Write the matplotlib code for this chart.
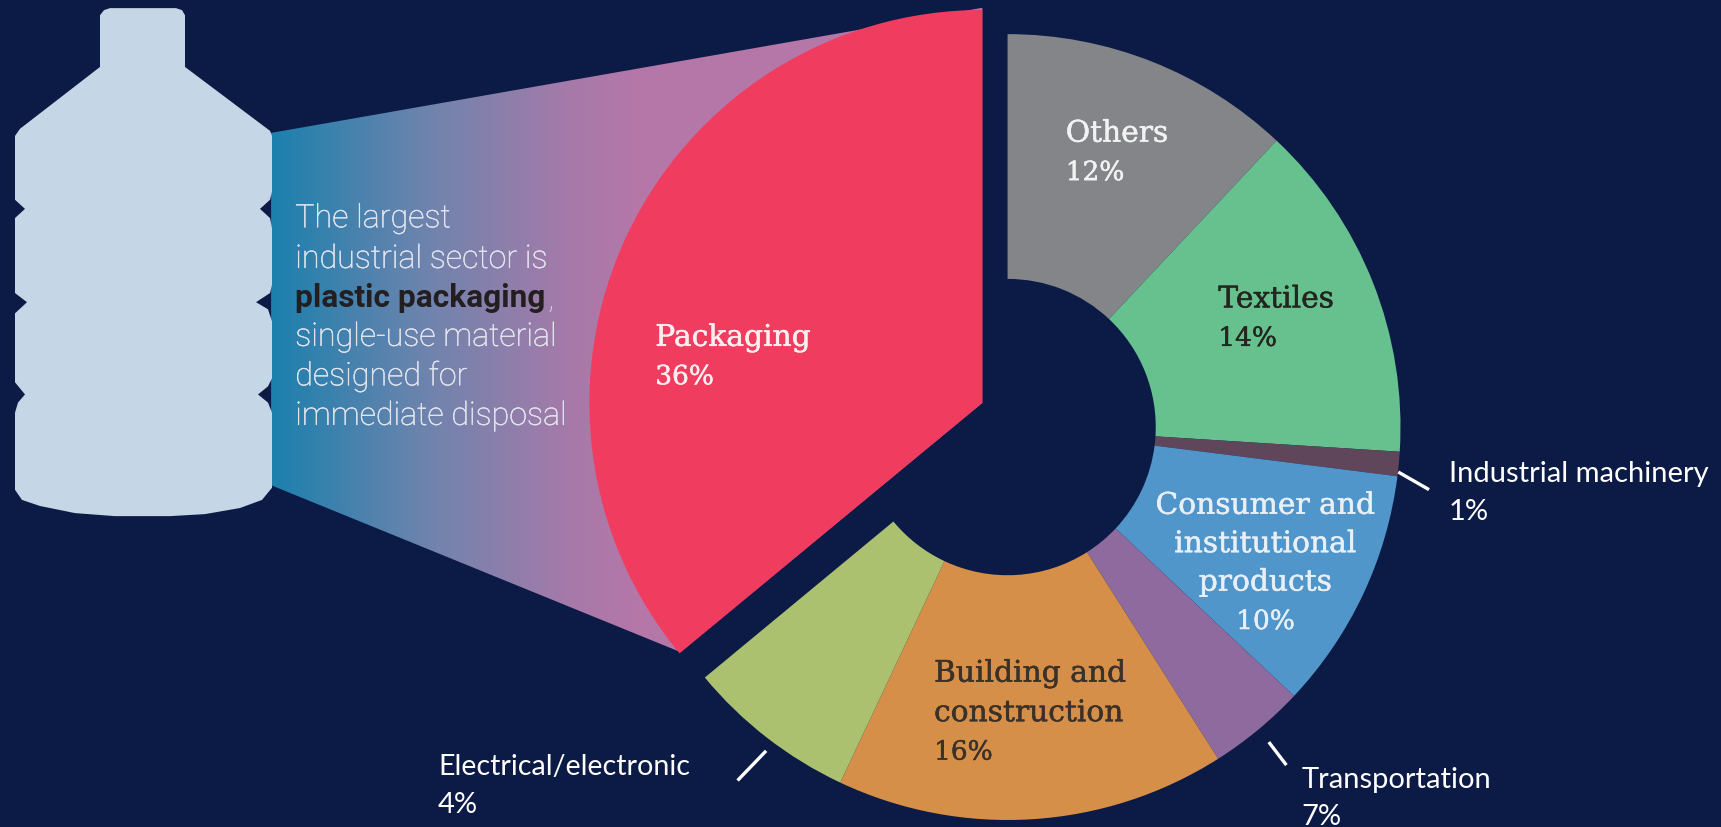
"""Plastic production by industrial sector, donut with bottle callout."""
import matplotlib
matplotlib.use('Agg')
import matplotlib.pyplot as plt
import matplotlib.patheffects as pe
from matplotlib.colors import LinearSegmentedColormap
from matplotlib.patches import Polygon
import numpy as np

W, H = 1721, 828
S = W / 1568  # positions below were read on the 1568 px wide view

BG = '#0c1a46'
sectors = ['Others', 'Textiles', 'Industrial machinery', 'Consumer', 'Transportation',
           'Building', 'Electrical', 'Packaging']
shares = [12, 14, 1, 10, 4, 16, 7, 36]  # slice sizes as drawn
colors = ['#848588', '#66c18e', '#60465b', '#5096ca', '#8f6a9f', '#d68f48', '#abc16f', '#f03c5f']

intro_lines = ['The largest', 'industrial sector is', 'plastic packaging',
               'single-use material', 'designed for', 'immediate disposal']

NARROW = 'Roboto'
SLAB = 'DejaVu Serif'
SANS = 'Lato'


def px(x, y):
    return x * S, H - y * S


def label(x, y, s, color='white', size=21.4, family=SLAB, ha='left', weight='normal', thick=0.0):
    X, Y = px(x, y)
    t = ax.text(X, Y, s, color=color, fontsize=size, family=family, ha=ha, va='baseline',
                weight=weight, zorder=6)
    if thick:
        t.set_path_effects([pe.withStroke(linewidth=thick, foreground=color)])


fig = plt.figure(figsize=(W / 100, H / 100), dpi=100, facecolor=BG)
ax = fig.add_axes([0, 0, 1, 1])
ax.set_facecolor(BG)

# gradient funnel from bottle to packaging slice
funnel = Polygon([px(247, 122), px(800, 25), px(895, 8), px(895, 368), px(620, 595), px(247, 443)],
                 closed=True, transform=ax.transData, fc='none', ec='none')
ax.add_patch(funnel)
cmap = LinearSegmentedColormap.from_list('funnel', [(0, '#1c80ae'), (0.22, '#6f84ad'), (0.42, '#a67aa9'),
                                                    (0.52, '#b577a8'), (1, '#b577a8')])
img = ax.imshow(np.linspace(0, 1, 256)[None, :], cmap=cmap, aspect='auto', zorder=1,
                extent=(247 * S, 895 * S, 0, H))
img.set_clip_path(funnel)

# donut, packaging slice pulled out up-left and with no hole
R, r = 358 * S, 135 * S
wedges, _ = ax.pie(shares, colors=colors, startangle=90, counterclock=False, radius=R,
                   center=px(918, 390), wedgeprops=dict(width=R - r, linewidth=0))
wedges[-1].set_center(px(895, 368))
wedges[-1].set_width(None)
for w in wedges:
    w.set_zorder(3)

# bottle
bottle = [(100, 16), (104, 11), (110, 9), (176, 9), (182, 11), (185, 16), (185, 67),
          (270, 130), (272, 135), (272, 190), (270, 198), (260, 207), (270, 216), (272, 226),
          (272, 282), (270, 290), (256, 299), (268, 306), (272, 318), (272, 374), (268, 382),
          (258, 390), (268, 398), (272, 408), (272, 482), (262, 494), (240, 502), (205, 508),
          (170, 510), (115, 510), (75, 507), (40, 500), (22, 494), (15, 484), (15, 408),
          (18, 398), (25, 390), (15, 378), (15, 310), (27, 299), (15, 290), (15, 216),
          (25, 207), (15, 198), (15, 135), (20, 128), (100, 67)]
ax.add_patch(Polygon([(x, H - y * 1.014) for x, y in bottle], closed=True, fc='#c5d6e6', ec='none', zorder=4))

# intro text
for (s, base) in zip(intro_lines, [208, 245, 280, 316, 352, 388]):
    if s.startswith('plastic'):
        label(269, base, s, color='#231f20', size=22.8, family=NARROW, weight='bold')
    else:
        label(269, base, s, color='#e3e6f0', size=23.2, family=NARROW, weight='light', thick=0.3)
label(499, 280, ',', color='#e3e6f0', size=23.2, family=NARROW, weight='light')

# slice labels
label(971, 130, 'Others', color='#f2f2f2', thick=0.35)
label(971, 165, '12%', color='#f2f2f2', size=19, thick=0.35)
label(1110, 281, 'Textiles', color='#22261f', thick=0.35)
label(1110, 316, '14%', color='#22261f', size=19, thick=0.35)
label(597, 316, 'Packaging', color='#fdeef0', thick=0.35)
label(597, 351, '36%', color='#fdeef0', size=19, thick=0.35)
for s, base, sz in zip(['Consumer and', 'institutional', 'products', '10%'], [469, 504, 539, 574],
                       [21.4, 21.4, 21.4, 19]):
    label(1153, base, s, color='#e8eff6', ha='center', size=sz, thick=0.35)
for s, base, sz in zip(['Building and', 'construction', '16%'], [622, 658, 693], [21.4, 21.4, 19]):
    label(851, base, s, color='#3b3128', size=sz, thick=0.35)

# outside labels
label(1320, 439, 'Industrial machinery', size=21, family=SANS)
label(1320, 474, '1%', size=21, family=SANS)
label(1186, 718, 'Transportation', size=21, family=SANS)
label(1186, 752, '7%', size=21, family=SANS)
label(399, 706, 'Electrical/electronic', size=20.6, family=SANS)
label(399, 741, '4%', size=21, family=SANS)

# leader lines
for a, b in [((1274, 431), (1302, 447)), ((1156, 677), (1172, 698)), ((672, 712), (698, 685))]:
    xa, ya = px(*a)
    xb, yb = px(*b)
    ax.plot([xa, xb], [ya, yb], color='white', lw=2.4, zorder=6, solid_capstyle='butt')

ax.set_xlim(0, W)
ax.set_ylim(0, H)
ax.set_aspect('auto')
ax.axis('off')
fig.savefig('out.png', dpi=100, facecolor=BG)
